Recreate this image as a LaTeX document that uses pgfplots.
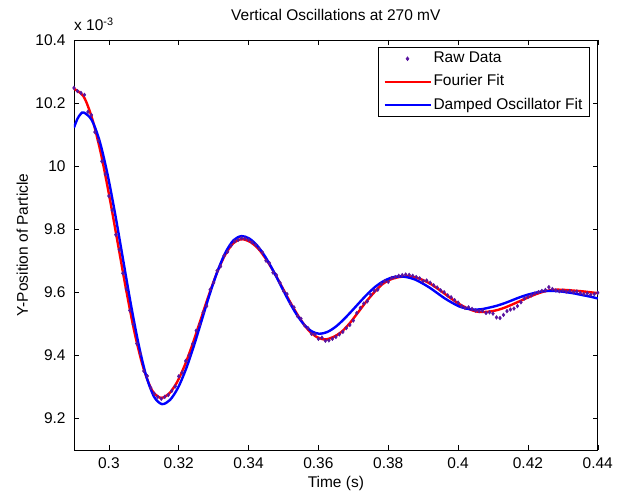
\documentclass[border=0pt]{standalone}
\usepackage{pgfplots}
\pgfplotsset{compat=1.18}
\usepackage{fontspec}
\setmainfont{Liberation Sans}
\definecolor{rawc}{RGB}{90,20,160}
\pgfplotsset{
  lineleg/.style={legend image code/.code={\draw[##1, line width=2pt] (0pt,0pt) -- (46pt,0pt);}},
  markleg/.style={legend image code/.code={\draw[mark repeat=2,mark phase=2,##1] plot coordinates {(0pt,0pt) (23pt,0pt) (46pt,0pt)};}},
}
\begin{document}
\fontsize{15.5}{18}\selectfont
\begin{tikzpicture}
\begin{axis}[
  scale only axis, width=524pt, height=410pt,
  xmin=0.29, xmax=0.44, ymin=9.1, ymax=10.4,
  xtick={0.3,0.32,0.34,0.36,0.38,0.4,0.42,0.44},
  xticklabels={0.3,0.32,0.34,0.36,0.38,0.4,0.42,0.44},
  ytick={9.2,9.4,9.6,9.8,10,10.2,10.4},
  yticklabels={9.2,9.4,9.6,9.8,10,10.2,10.4},
  /pgf/number format/assume math mode=true,
  tick align=inside, major tick length=5pt,
  tick style={black, line width=0.5pt},
  axis line style={black, line width=0.6pt},
  yticklabel style={xshift=-3pt},
  xticklabel style={yshift=-3pt},
  title={Vertical Oscillations at 270 mV},
  title style={at={(axis description cs:0.5,1.034)}, anchor=base, inner sep=0pt},
  xlabel={Time (s)},
  xlabel style={at={(axis description cs:0.5,-0.093)}, anchor=base, inner sep=0pt},
  ylabel={Y-Position of Particle},
  ylabel style={at={(axis description cs:-0.088,0.5)}, anchor=base, inner sep=0pt},
  legend style={at={(1,1)}, anchor=north east, xshift=-8pt, yshift=-7pt,
    draw=black, line width=0.6pt, fill=white, cells={anchor=west},
    row sep=5.5pt, inner xsep=5pt, inner ysep=3pt},
  legend cell align=left,
]
\addplot[only marks, mark=diamond*, mark size=1.9pt, color=rawc, markleg]
table {
x y
0.290 10.248
0.291 10.238
0.292 10.232
0.293 10.226
0.294 10.172
0.295 10.162
0.296 10.108
0.297 10.080
0.298 10.015
0.299 9.975
0.300 9.905
0.301 9.860
0.302 9.782
0.303 9.735
0.304 9.660
0.305 9.610
0.306 9.542
0.307 9.498
0.308 9.437
0.309 9.405
0.310 9.350
0.311 9.334
0.312 9.296
0.313 9.278
0.314 9.268
0.315 9.262
0.316 9.268
0.317 9.274
0.318 9.287
0.319 9.301
0.320 9.333
0.321 9.345
0.322 9.382
0.323 9.400
0.324 9.436
0.325 9.478
0.326 9.498
0.327 9.536
0.328 9.556
0.329 9.608
0.330 9.630
0.331 9.668
0.332 9.682
0.333 9.716
0.334 9.728
0.335 9.748
0.336 9.761
0.337 9.766
0.338 9.771
0.339 9.770
0.340 9.766
0.341 9.758
0.342 9.750
0.343 9.738
0.344 9.726
0.345 9.700
0.346 9.692
0.347 9.662
0.348 9.654
0.349 9.630
0.350 9.604
0.351 9.594
0.352 9.563
0.353 9.552
0.354 9.524
0.355 9.516
0.356 9.495
0.357 9.486
0.358 9.468
0.359 9.466
0.360 9.452
0.361 9.456
0.362 9.446
0.363 9.447
0.364 9.452
0.365 9.458
0.366 9.466
0.367 9.474
0.368 9.486
0.369 9.496
0.370 9.510
0.371 9.534
0.372 9.550
0.373 9.564
0.374 9.571
0.375 9.592
0.376 9.604
0.377 9.608
0.378 9.626
0.379 9.635
0.380 9.633
0.381 9.645
0.382 9.648
0.383 9.652
0.384 9.654
0.385 9.656
0.386 9.655
0.387 9.652
0.388 9.648
0.389 9.644
0.390 9.635
0.391 9.637
0.392 9.630
0.393 9.622
0.394 9.615
0.395 9.606
0.396 9.600
0.397 9.590
0.398 9.584
0.399 9.575
0.400 9.567
0.401 9.556
0.402 9.550
0.403 9.552
0.404 9.547
0.405 9.542
0.406 9.540
0.407 9.541
0.408 9.534
0.409 9.536
0.410 9.532
0.411 9.520
0.412 9.518
0.413 9.528
0.414 9.540
0.415 9.545
0.416 9.548
0.417 9.556
0.418 9.568
0.419 9.580
0.420 9.585
0.421 9.590
0.422 9.596
0.423 9.600
0.424 9.604
0.425 9.607
0.426 9.616
0.427 9.610
0.428 9.606
0.429 9.603
0.430 9.605
0.431 9.602
0.432 9.604
0.433 9.600
0.434 9.602
0.435 9.597
0.436 9.594
0.437 9.596
0.438 9.592
0.439 9.594
0.440 9.598
};
\addlegendentry{Raw Data}
\addplot[smooth, color=red, line width=2.4pt, lineleg]
table {
x y
0.2900 10.245
0.29275 10.221
0.2952 10.151
0.29765 10.043
0.3001 9.906
0.30255 9.755
0.3050 9.604
0.30745 9.467
0.3099 9.359
0.31235 9.289
0.3148 9.265
0.31712 9.277
0.31944 9.313
0.32176 9.369
0.32408 9.439
0.3264 9.517
0.32872 9.594
0.33104 9.664
0.33336 9.720
0.33568 9.756
0.3380 9.768
0.34039 9.760
0.34278 9.738
0.34517 9.702
0.34756 9.658
0.34995 9.609
0.35234 9.560
0.35473 9.516
0.35712 9.480
0.35951 9.458
0.3619 9.450
0.3643 9.458
0.3666 9.474
0.3690 9.502
0.3713 9.535
0.3737 9.570
0.3761 9.601
0.3784 9.626
0.3808 9.641
0.3831 9.648
0.3855 9.650
0.38767 9.647
0.38984 9.639
0.39201 9.627
0.39418 9.611
0.39635 9.5935
0.39852 9.576
0.40069 9.560
0.40286 9.548
0.40503 9.539
0.4072 9.537
0.40933 9.539
0.41146 9.544
0.41359 9.552
0.41572 9.562
0.41785 9.5725
0.41998 9.583
0.42211 9.593
0.42424 9.601
0.42637 9.606
0.4285 9.608
0.4308 9.607
0.4331 9.605
0.4354 9.603
0.4377 9.600
0.4400 9.597
};
\addlegendentry{Fourier Fit}
\addplot[smooth, color=blue, line width=2.4pt, lineleg]
table {
x y
0.2900 10.122
0.2910 10.150
0.2919 10.165
0.2928 10.170
0.29504 10.147
0.29728 10.082
0.29952 9.979
0.30176 9.850
0.3040 9.7075
0.30624 9.565
0.30848 9.436
0.31072 9.333
0.31296 9.268
0.3152 9.245
0.31748 9.258
0.31976 9.296
0.32204 9.355
0.32432 9.429
0.3266 9.5115
0.32888 9.594
0.33116 9.668
0.33344 9.727
0.33572 9.765
0.3380 9.778
0.34023 9.770
0.34246 9.748
0.34469 9.714
0.34692 9.671
0.34915 9.623
0.35138 9.575
0.35361 9.532
0.35584 9.498
0.35807 9.476
0.3603 9.468
0.3626 9.474
0.3649 9.490
0.3672 9.513
0.3696 9.541
0.3719 9.569
0.3742 9.596
0.3765 9.619
0.3788 9.636
0.3812 9.647
0.3835 9.650
0.3856 9.647
0.3877 9.640
0.3898 9.628
0.3919 9.614
0.3940 9.5975
0.3961 9.581
0.3982 9.567
0.4003 9.555
0.4024 9.548
0.4045 9.545
0.4067 9.546
0.4089 9.551
0.4111 9.557
0.4133 9.565
0.4155 9.5745
0.4177 9.584
0.4199 9.592
0.4221 9.598
0.4243 9.603
0.4265 9.604
0.4288 9.603
0.4310 9.600
0.4333 9.596
0.4355 9.591
0.4378 9.586
0.4400 9.580
};
\addlegendentry{Damped Oscillator Fit}
\end{axis}
\node[anchor=base west, inner sep=0pt] at ([yshift=9pt]current axis.north west) {x 10\textsuperscript{-3}};
\path ([xshift=-74pt,yshift=-42pt]current axis.south west) rectangle ([xshift=20pt,yshift=40pt]current axis.north east);
\end{tikzpicture}
\end{document}
